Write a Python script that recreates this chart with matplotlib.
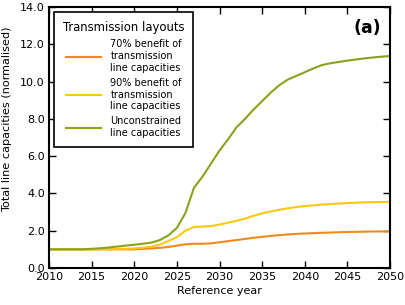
import matplotlib.pyplot as plt
import matplotlib as mpl

mpl.rcParams['font.family'] = ['DejaVu Sans']
mpl.rcParams['xtick.direction'] = 'in'
mpl.rcParams['ytick.direction'] = 'in'

years = list(range(2010, 2051))

# 70% benefit of transmission line capacities
cap_70 = [1.0, 1.0, 1.0, 1.0, 1.0, 1.0, 1.0, 1.0, 1.0, 1.0,
          1.0, 1.02, 1.05, 1.08, 1.13, 1.2, 1.27, 1.3, 1.3, 1.32,
          1.38, 1.44, 1.5, 1.56, 1.62, 1.67, 1.72, 1.76, 1.8, 1.83,
          1.85, 1.87, 1.89, 1.9, 1.92, 1.93, 1.94, 1.95, 1.96, 1.96, 1.97]

# 90% benefit of transmission line capacities
cap_90 = [1.0, 1.0, 1.0, 1.0, 1.0, 1.0, 1.0, 1.01, 1.02, 1.03,
          1.05, 1.09, 1.15, 1.25, 1.45, 1.65, 2.0, 2.2, 2.22, 2.25,
          2.33, 2.43, 2.53, 2.65, 2.8, 2.93, 3.03, 3.12, 3.2, 3.27,
          3.32, 3.36, 3.4, 3.43, 3.46, 3.48, 3.5, 3.52, 3.53, 3.54, 3.55]

# Unconstrained line capacities
cap_unc = [1.0, 1.0, 1.0, 1.0, 1.0, 1.03, 1.06, 1.1, 1.15, 1.2,
           1.25, 1.3, 1.36, 1.5, 1.75, 2.15, 2.95, 4.3, 4.9, 5.6,
           6.3, 6.9, 7.55, 8.0, 8.5, 8.95, 9.4, 9.8, 10.1, 10.3,
           10.5, 10.7, 10.88, 10.98, 11.05, 11.12, 11.18, 11.24, 11.29, 11.33, 11.37]

labels = ['70% benefit of\ntransmission\nline capacities',
          '90% benefit of\ntransmission\nline capacities',
          'Unconstrained\nline capacities']
colors = ['#ef8a1c', '#fcc80f', '#8ba21c']

fig = plt.figure(figsize=(4.06, 3.05), dpi=100)
ax = fig.add_axes([0.1207, 0.1213, 0.84, 0.856])

for vals, lab, col in zip([cap_70, cap_90, cap_unc], labels, colors):
    ax.plot(years, vals, color=col, linewidth=1.5, label=lab)

ax.set_xlim(2010, 2050)
ax.set_ylim(0, 14)
ax.set_xticks(range(2010, 2051, 5))
ax.set_yticks(range(0, 15, 2))
ax.yaxis.set_major_formatter(mpl.ticker.FormatStrFormatter('%.1f'))
ax.tick_params(labelsize=8, top=True, right=True, length=5, width=1, pad=3)
for sp in ax.spines.values():
    sp.set_linewidth(1.5)

ax.set_xlabel('Reference year', fontsize=8, labelpad=3)
ax.set_ylabel('Total line capacities (normalised)', fontsize=8.1)
ax.yaxis.set_label_coords(-0.107, 0.571)

ax.text(0.975, 0.955, '(a)', transform=ax.transAxes, ha='right', va='top',
        fontsize=12.5, fontweight='bold')

leg = ax.legend(loc='upper left', title='Transmission layouts', fontsize=7,
                title_fontsize=8.4, fancybox=False, framealpha=1,
                edgecolor='black', borderaxespad=0.55, handlelength=3.6,
                handletextpad=1.0, labelspacing=0.55, borderpad=0.9)
leg.get_frame().set_linewidth(1.2)

fig.savefig('out.png', dpi=100)
